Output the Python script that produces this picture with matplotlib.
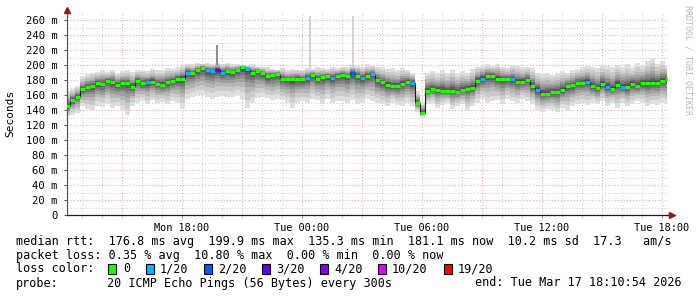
import numpy as np
import matplotlib
matplotlib.use("Agg")
import matplotlib.pyplot as plt
from matplotlib.collections import LineCollection
from matplotlib.patches import Rectangle

# ---------------- data (hours since Mon 00:00, 15 min steps) ----------------
t_start = 12.25
t_step = 0.25

median_ms = [145, 153, 158, 168, 171, 172, 176, 175, 179, 178,
             174, 176, 176, 171, 179, 176, 177, 178, 175, 174,
             177, 179, 181, 182, 190, 189, 193, 196, 193, 192,
             194, 190, 192, 191, 193, 197, 195, 190, 192, 189,
             185, 187, 188, 182, 181, 181, 182, 181, 183, 187,
             182, 184, 185, 183, 186, 187, 185, 189, 186, 183,
             185, 188, 180, 177, 174, 172, 172, 175, 177, 176,
             150, 136, 166, 168, 167, 166, 165, 166, 164, 167,
             168, 170, 179, 182, 186, 186, 182, 181, 181, 181,
             178, 178, 180, 172, 167, 162, 162, 164, 164, 167,
             172, 173, 176, 176, 178, 172, 169, 175, 171, 168,
             174, 171, 171, 175, 172, 176, 176, 176, 176, 179,
             181]

loss_count = [0, 0, 0, 0, 0, 0, 0, 0, 0, 0,
              0, 0, 0, 0, 0, 0, 1, 0, 0, 0,
              0, 0, 0, 0, 1, 0, 0, 0, 1, 1,
              3, 1, 0, 0, 0, 0, 1, 0, 0, 0,
              0, 0, 0, 0, 0, 0, 0, 0, 1, 0,
              0, 0, 0, 1, 0, 0, 0, 2, 0, 1,
              0, 1, 0, 0, 0, 0, 0, 0, 0, 1,
              0, 0, 0, 0, 0, 0, 0, 0, 0, 0,
              0, 0, 0, 1, 0, 0, 0, 0, 0, 1,
              0, 0, 0, 0, 1, 0, 0, 0, 0, 0,
              0, 0, 0, 0, 1, 0, 0, 0, 1, 0,
              0, 1, 0, 0, 0, 0, 0, 0, 0, 0,
              0]

smoke_max_ms = [165, 168, 172, 185, 188, 190, 191, 193, 191, 194,
                190, 192, 193, 191, 193, 194, 192, 195, 193, 194,
                196, 195, 197, 200, 202, 201, 203, 202, 203, 202,
                203, 202, 203, 201, 202, 200, 199, 201, 198, 198,
                197, 195, 194, 196, 193, 195, 194, 194, 196, 195,
                197, 196, 195, 197, 196, 198, 197, 200, 199, 198,
                201, 199, 198, 197, 195, 196, 193, 196, 194, 190,
                165, 150, 190, 192, 189, 193, 190, 194, 189, 192,
                190, 195, 198, 200, 201, 199, 202, 198, 196, 200,
                199, 197, 198, 196, 190, 188, 190, 187, 189, 192,
                190, 193, 195, 197, 199, 198, 196, 200, 199, 197,
                200, 198, 201, 197, 203, 199, 205, 210, 202, 205,
                200]

smoke_min_ms = [132, 134, 136, 145, 142, 140, 146, 144, 148, 143,
                145, 140, 133, 146, 150, 152, 148, 153, 150, 151,
                148, 152, 150, 142, 155, 158, 160, 160, 157, 155,
                158, 160, 158, 158, 160, 155, 143, 150, 156, 158,
                156, 153, 155, 153, 150, 143, 150, 152, 150, 155,
                153, 148, 155, 150, 152, 152, 150, 153, 148, 150,
                155, 152, 150, 148, 145, 150, 147, 146, 150, 145,
                138, 131, 148, 150, 143, 147, 150, 142, 146, 148,
                140, 145, 150, 155, 150, 152, 153, 148, 155, 152,
                150, 155, 152, 148, 140, 138, 142, 140, 137, 143,
                140, 145, 148, 150, 147, 150, 148, 152, 146, 150,
                143, 150, 145, 148, 152, 150, 145, 148, 147, 150,
                148]

# single-ping outliers (thin spikes)
spike_hours = [19.75, 24.40, 26.55]
spike_base_ms = [200, 195, 197]
spike_top_ms = [227, 266, 266]
spike_shade = ["#8a8a8a", "#d2d2d2", "#d2d2d2"]

tick_hours = [18, 24, 30, 36, 42]
tick_labels = ["Mon 18:00", "Tue 00:00", "Tue 06:00", "Tue 12:00", "Tue 18:00"]

loss_levels = [0, 1, 2, 3, 4, 10, 19]
loss_colors = ["#26ff00", "#00b8ff", "#0059ff", "#5e00ff", "#7e00ff", "#dd00ff", "#ff0000"]
loss_names = ["0", "1/20", "2/20", "3/20", "4/20", "10/20", "19/20"]

row_rtt = "median rtt:  176.8 ms avg  199.9 ms max  135.3 ms min  181.1 ms now  10.2 ms sd  17.3   am/s"
row_loss = "packet loss: 0.35 % avg  10.80 % max  0.00 % min  0.00 % now"
probe_text = "20 ICMP Echo Pings (56 Bytes) every 300s"
end_text = "end: Tue Mar 17 18:10:54 2026"

# ---------------- figure ----------------
W, H = 697, 297
MONO = "DejaVu Sans Mono"
plt.rcParams["font.family"] = [MONO, "DejaVu Sans"]

fig = plt.figure(figsize=(W / 100, H / 100), dpi=100, facecolor="white")

def fx(px):
    return px / W

def fy(py):
    return 1 - py / H

ax_left, ax_right, ax_top, ax_bottom = 67, 668, 12.5, 215
ax = fig.add_axes([fx(ax_left), fy(ax_bottom), (ax_right - ax_left) / W, (ax_bottom - ax_top) / H])
ax.set_facecolor("white")

x_end = t_start + (ax_right - ax_left) / 20.0
ax.set_xlim(t_start, x_end)
ax.set_ylim(0, 270)

# grid
for h in range(13, 43):
    major = (h % 3 == 0)
    ax.axvline(h, color="#eba0a0" if major else "#cccccc", lw=0.75,
               ls=(0, (1, 2)), zorder=0)
for v in range(10, 270, 10):
    major = (v % 20 == 0)
    ax.axhline(v, color="#eba0a0" if major else "#cccccc", lw=0.75,
               ls=(0, (1, 2)), zorder=0)

t = t_start + t_step * np.arange(len(median_ms))
med = np.array(median_ms, dtype=float)
lo = np.array(smoke_min_ms, dtype=float)
hi = np.array(smoke_max_ms, dtype=float)

# smoke layers (outer light -> inner dark)
fracs = [1.0, 0.8, 0.62, 0.47, 0.35, 0.25, 0.16, 0.08]
shades = ["#dedede", "#cbcbcb", "#b6b6b6", "#a0a0a0", "#8a8a8a", "#747474", "#5c5c5c", "#444444"]
for f, c in zip(fracs, shades):
    ax.fill_between(t, med - f * (med - lo), med + f * (hi - med), step="mid",
                    color=c, lw=0, zorder=1)

for sh, sb, st, sc in zip(spike_hours, spike_base_ms, spike_top_ms, spike_shade):
    ax.vlines(sh, sb, st, color=sc, lw=1.4, zorder=1)

# median connectors + coloured loss segments
ax.step(t, med, where="mid", color="#1a1a1a", lw=0.8, zorder=2)

def loss_color(n):
    col = loss_colors[0]
    for lv, c in zip(loss_levels, loss_colors):
        if n >= lv:
            col = c
    return col

segs = [[(ti - t_step / 2, m), (ti + t_step / 2, m)] for ti, m in zip(t, med)]
cols = [loss_color(n) for n in loss_count]
ax.add_collection(LineCollection(segs, colors=cols, linewidths=2.3, zorder=3,
                                 capstyle="butt"))

# axes styling
for s in ["top", "right"]:
    ax.spines[s].set_visible(False)
ax.spines["left"].set_color("#555555")
ax.spines["left"].set_linewidth(0.9)
ax.spines["bottom"].set_color("#1a1a1a")
ax.spines["bottom"].set_linewidth(0.9)

yt = list(range(0, 261, 20))
ax.set_yticks(yt, labels=["0"] + [f"{v} m" for v in yt[1:]])
ax.set_xticks(tick_hours, labels=tick_labels)
ax.set_xticks(list(range(13, 43)), minor=True)
ax.tick_params(axis="y", direction="out", length=2.5, width=0.7, color="#555555",
               labelsize=7.6, pad=4)
ax.tick_params(axis="x", which="major", direction="out", length=2.2, width=0.7,
               color="#e07070", labelsize=7.4, pad=3.5)
ax.tick_params(axis="x", which="minor", direction="out", length=2.0, width=0.6,
               color="#c8c8c8")
for lab in ax.get_xticklabels() + ax.get_yticklabels():
    lab.set_family(MONO)

# arrows
ax.plot([t_start], [272.8], marker="^", ms=4.5, color="#8b1c1c", clip_on=False, zorder=5)
arrow_x = t_start + (671.5 - ax_left) / 20.0
ax.plot([x_end, arrow_x], [0, 0], color="#1a1a1a", lw=0.9, clip_on=False)
ax.plot([arrow_x], [0], marker=">", ms=4.5, color="#8b1c1c", clip_on=False, zorder=5)

ax.set_ylabel("Seconds", family=MONO, fontsize=8)
ax.yaxis.set_label_coords((15.5 - ax_left) / (ax_right - ax_left), 0.5)

# watermark
fig.text(fx(688), fy(5), "RRDTOOL / TOBI OETIKER", rotation=270, ha="center", va="top",
         fontsize=6, color="#b8b8b8", family=MONO)

# legend rows
FS = 8.5
fig.text(fx(16), fy(241.5), row_rtt, ha="left", va="center", fontsize=FS, family=MONO)
fig.text(fx(16), fy(255.3), row_loss, ha="left", va="center", fontsize=FS, family=MONO)
fig.text(fx(16), fy(269), "loss color:", ha="left", va="center", fontsize=FS, family=MONO)
box_x = [108, 146, 204, 262, 320, 378, 444]
text_x = [123, 160, 218, 276, 334, 392, 458]
for bx, tx, c, name in zip(box_x, text_x, loss_colors, loss_names):
    fig.patches.append(Rectangle((fx(bx), fy(274)), 8 / W, 10 / H, transform=fig.transFigure,
                                 facecolor=c, edgecolor="black", lw=0.8))
    fig.text(fx(tx), fy(269), name, ha="left", va="center", fontsize=FS, family=MONO)
fig.text(fx(16), fy(283), "probe:", ha="left", va="center", fontsize=FS, family=MONO)
fig.text(fx(107), fy(283), probe_text, ha="left", va="center", fontsize=FS, family=MONO)
fig.text(fx(682), fy(283), end_text, ha="right", va="center", fontsize=FS, family=MONO)

fig.savefig("out.png", dpi=100, facecolor="white")
